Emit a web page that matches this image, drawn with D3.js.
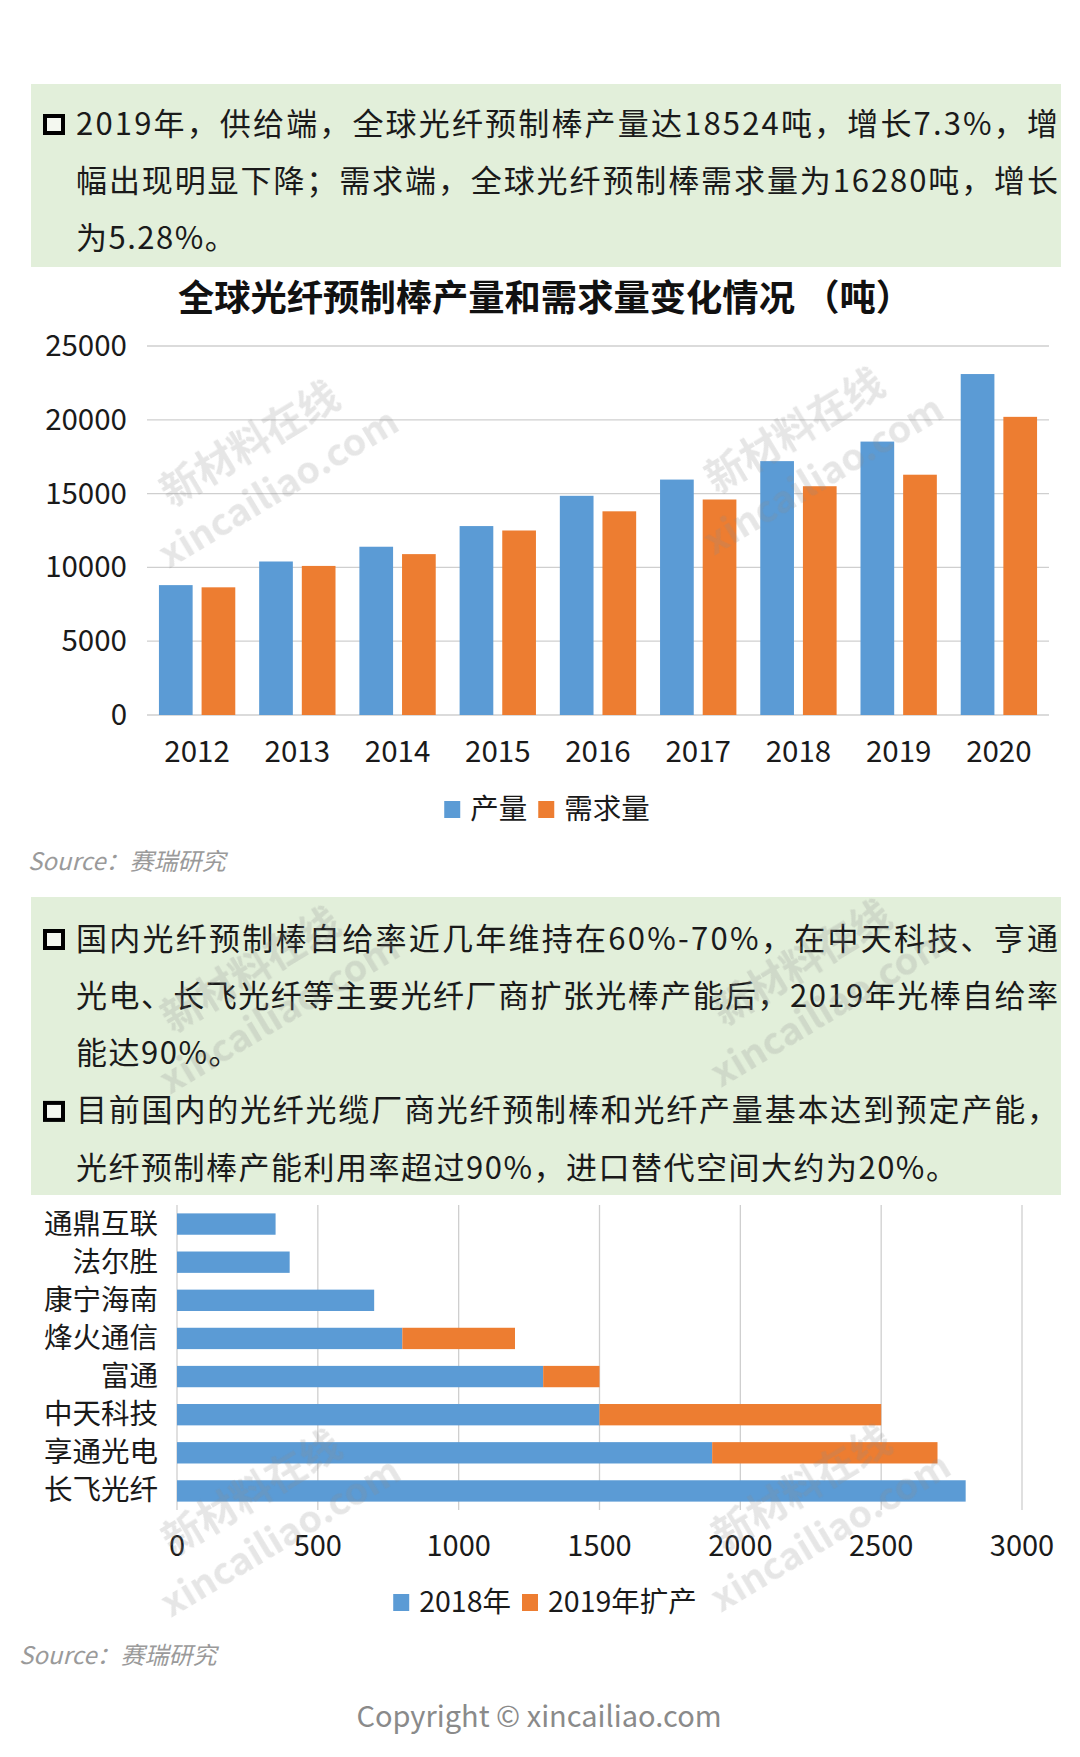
<!DOCTYPE html>
<html>
<head>
<meta charset="utf-8">
<script src="https://cdn.jsdelivr.net/npm/d3@7"></script>
<style>
body { margin: 0; background: #fff; }
svg { display: block; }
text { font-family: "Noto Sans CJK SC", "Microsoft YaHei", sans-serif; }
</style>
</head>
<body>
<div id="chart"></div>
<script>
// ---- data ----
var years = ["2012", "2013", "2014", "2015", "2016", "2017", "2018", "2019", "2020"];
var production = [8800, 10400, 11400, 12800, 14850, 15950, 17200, 18524, 23100];
var demand = [8650, 10100, 10900, 12500, 13800, 14600, 15500, 16280, 20200];
var seriesNames = ["产量", "需求量"];
var yTicks = [0, 5000, 10000, 15000, 20000, 25000];

var companies = ["通鼎互联", "法尔胜", "康宁海南", "烽火通信", "富通", "中天科技", "享通光电", "长飞光纤"];
var cap2018 = [350, 400, 700, 800, 1300, 1500, 1900, 2800];
var add2019 = [0, 0, 0, 400, 200, 1000, 800, 0];
var capNames = ["2018年", "2019年扩产"];
var xTicks = [0, 500, 1000, 1500, 2000, 2500, 3000];

var note1 = [
	["2019年，供给端，全球光纤预制棒产量达18524吨，增长7.3%，增",
	 "幅出现明显下降；需求端，全球光纤预制棒需求量为16280吨，增长",
	 "为5.28%。"]
];
var note2 = [
	["国内光纤预制棒自给率近几年维持在60%-70%，在中天科技、亨通",
	 "光电、长飞光纤等主要光纤厂商扩张光棒产能后，2019年光棒自给率",
	 "能达90%。"],
	["目前国内的光纤光缆厂商光纤预制棒和光纤产量基本达到预定产能，",
	 "光纤预制棒产能利用率超过90%，进口替代空间大约为20%。"]
];
var chartTitle = "全球光纤预制棒产量和需求量变化情况 （吨）";
var sourceText = "Source：赛瑞研究";
var copyright = "Copyright © xincailiao.com";

// ---- style ----
var BLUE = "#5B9BD5", ORANGE = "#ED7D31";
var GREEN = "#E2EFDA", GRID = "#cfcfcf";
var DY = -3; // nudge for "central" baseline

var svg = d3.select("#chart").append("svg")
	.attr("width", 1080)
	.attr("height", 1757);

svg.append("rect").attr("width", 1080).attr("height", 1757).attr("fill", "#fff");

/* green note box with bulleted, justified lines */
function drawNote(paras, top, bottom, firstY) {
	var lh = 57.3;
	svg.append("rect")
		.attr("x", 31).attr("y", top)
		.attr("width", 1030).attr("height", bottom - top)
		.attr("fill", GREEN);
	var k = 0;
	paras.forEach(function(lines) {
		lines.forEach(function(line, j) {
			var y = firstY + lh * k;
			if (j == 0) {
				svg.append("rect")
					.attr("x", 45).attr("y", y - 9)
					.attr("width", 18).attr("height", 17)
					.attr("fill", "#f4f8f0")
					.attr("stroke", "#000").attr("stroke-width", 4);
			}
			var t = svg.append("text")
				.attr("x", 76).attr("y", y - 4)
				.attr("dominant-baseline", "central")
				.attr("font-size", 31)
				.attr("fill", "#1a1a1a")
				.text(line);
			if (j < lines.length - 1) {
				t.attr("textLength", 982).attr("lengthAdjust", "spacing");
			} else {
				t.attr("letter-spacing", 1.5);
			}
			k++;
		});
	});
}

/* centered legend row */
function drawLegend(names, colors, cx, cy) {
	var g = svg.append("g");
	var x = 0;
	names.forEach(function(n, i) {
		g.append("rect")
			.attr("x", x).attr("y", cy - 8)
			.attr("width", 16).attr("height", 17)
			.attr("fill", colors[i]);
		var t = g.append("text")
			.attr("x", x + 26).attr("y", cy + DY)
			.attr("dominant-baseline", "central")
			.attr("font-size", 28.5)
			.attr("fill", "#1a1a1a")
			.text(n);
		x += 26 + t.node().getComputedTextLength() + 11;
	});
	g.attr("transform", "translate(" + (cx - (x - 11) / 2) + ",0)");
}

function drawSource(x, y) {
	svg.append("text")
		.attr("x", x).attr("y", y + DY)
		.attr("dominant-baseline", "central")
		.attr("font-size", 24)
		.attr("font-style", "italic")
		.attr("fill", "#9a9a9a")
		.text(sourceText);
}

// ---- top note + title ----
drawNote(note1, 84, 267, 125);

svg.append("text")
	.attr("x", 545).attr("y", 295)
	.attr("text-anchor", "middle")
	.attr("dominant-baseline", "central")
	.attr("font-size", 36.3)
	.attr("font-weight", 700)
	.attr("fill", "#111")
	.text(chartTitle);

// ---- grouped column chart ----
var table = years.map(function(y, i) {
	return { year: y, values: [production[i], demand[i]] };
});

var x0 = d3.scaleBand().domain(years).range([147, 1049]).padding(0);
var x1 = d3.scaleBand().domain([0, 1]).range([0, x0.bandwidth()])
	.paddingInner(0.21).paddingOuter(0.28);
var y = d3.scaleLinear().domain([0, 25000]).range([715, 346]);

svg.append("g")
	.selectAll("line")
	.data(yTicks)
	.enter()
	.append("line")
	.attr("x1", 147).attr("x2", 1049)
	.attr("y1", function(d) { return y(d); })
	.attr("y2", function(d) { return y(d); })
	.attr("stroke", GRID)
	.attr("stroke-width", 1.3);

svg.append("g")
	.selectAll("text")
	.data(yTicks)
	.enter()
	.append("text")
	.attr("x", 127)
	.attr("y", function(d) { return y(d) + DY; })
	.attr("text-anchor", "end")
	.attr("dominant-baseline", "central")
	.attr("font-size", 29.5)
	.attr("fill", "#1a1a1a")
	.text(function(d) { return d; });

var groups = svg.append("g")
	.selectAll("g")
	.data(table)
	.enter()
	.append("g")
	.attr("transform", function(d) { return "translate(" + x0(d.year) + ",0)"; });

groups.selectAll("rect")
	.data(function(d) { return d.values; })
	.enter()
	.append("rect")
	.attr("x", function(d, i) { return x1(i); })
	.attr("width", x1.bandwidth())
	.attr("y", function(d) { return y(d); })
	.attr("height", function(d) { return y(0) - y(d); })
	.attr("fill", function(d, i) { return i == 0 ? BLUE : ORANGE; });

svg.append("g")
	.selectAll("text")
	.data(years)
	.enter()
	.append("text")
	.attr("x", function(d) { return x0(d) + x0.bandwidth() / 2; })
	.attr("y", 752 + DY)
	.attr("text-anchor", "middle")
	.attr("dominant-baseline", "central")
	.attr("font-size", 29.5)
	.attr("fill", "#1a1a1a")
	.text(function(d) { return d; });

drawLegend(seriesNames, [BLUE, ORANGE], 547, 809);
drawSource(28, 862);

// ---- second note ----
drawNote(note2, 897, 1195, 940);

// ---- stacked horizontal bars ----
var capTable = companies.map(function(c, i) {
	return { name: c, a: cap2018[i], b: add2019[i] };
});
var stack = d3.stack().keys(["a", "b"])(capTable);

var hx = d3.scaleLinear().domain([0, 3000]).range([177, 1022]);
var hy = d3.scaleBand().domain(companies).range([1205, 1510])
	.paddingInner(0.44).paddingOuter(0.22);

svg.append("g")
	.selectAll("line")
	.data(xTicks)
	.enter()
	.append("line")
	.attr("x1", function(d) { return hx(d); })
	.attr("x2", function(d) { return hx(d); })
	.attr("y1", 1205).attr("y2", 1510)
	.attr("stroke", GRID)
	.attr("stroke-width", 1.3);

svg.append("g")
	.selectAll("g")
	.data(stack)
	.enter()
	.append("g")
	.attr("fill", function(d, i) { return i == 0 ? BLUE : ORANGE; })
	.selectAll("rect")
	.data(function(d) { return d; })
	.enter()
	.append("rect")
	.attr("x", function(d) { return hx(d[0]); })
	.attr("width", function(d) { return hx(d[1]) - hx(d[0]); })
	.attr("y", function(d) { return hy(d.data.name); })
	.attr("height", hy.bandwidth());

svg.append("g")
	.selectAll("text")
	.data(companies)
	.enter()
	.append("text")
	.attr("x", 158)
	.attr("y", function(d) { return hy(d) + hy.bandwidth() / 2 + DY; })
	.attr("text-anchor", "end")
	.attr("dominant-baseline", "central")
	.attr("font-size", 28.5)
	.attr("fill", "#1a1a1a")
	.text(function(d) { return d; });

svg.append("g")
	.selectAll("text")
	.data(xTicks)
	.enter()
	.append("text")
	.attr("x", function(d) { return hx(d); })
	.attr("y", 1546 + DY)
	.attr("text-anchor", "middle")
	.attr("dominant-baseline", "central")
	.attr("font-size", 29)
	.attr("fill", "#1a1a1a")
	.text(function(d) { return d; });

drawLegend(capNames, [BLUE, ORANGE], 545, 1602);
drawSource(19, 1656);

svg.append("text")
	.attr("x", 539).attr("y", 1717 + DY)
	.attr("text-anchor", "middle")
	.attr("dominant-baseline", "central")
	.attr("font-size", 29)
	.attr("fill", "#8a8a8a")
	.text(copyright);

// ---- watermarks ----
var wmSpots = [[248, 441], [793, 428], [249, 967], [800, 960], [250, 1490], [800, 1485]];
var wm = svg.append("g")
	.attr("fill", "#8c8c8c")
	.attr("opacity", 0.22)
	.attr("font-weight", 700)
	.selectAll("g")
	.data(wmSpots)
	.enter()
	.append("g")
	.attr("transform", function(d) { return "translate(" + d[0] + "," + d[1] + ") rotate(-31)"; });
wm.append("text")
	.attr("text-anchor", "middle")
	.attr("dominant-baseline", "central")
	.attr("font-size", 40)
	.text("新材料在线");
wm.append("text")
	.attr("x", 2).attr("y", 52)
	.attr("text-anchor", "middle")
	.attr("dominant-baseline", "central")
	.attr("font-size", 38)
	.attr("font-family", "'Open Sans', 'Noto Sans', sans-serif")
	.text("xincailiao.com");
</script>
</body>
</html>
